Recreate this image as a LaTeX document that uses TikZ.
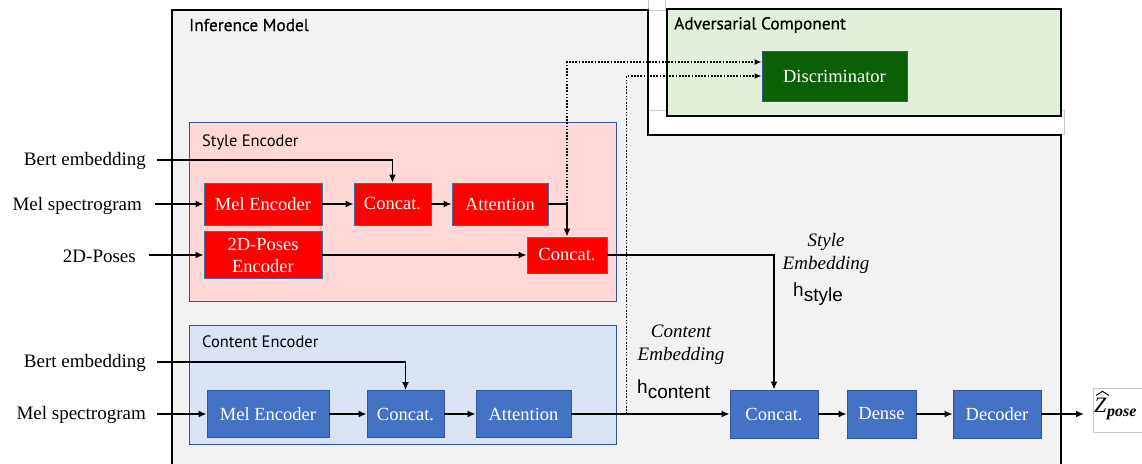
\documentclass[tikz,border=0pt]{standalone}
\usepackage{fontspec}
\setmainfont{Liberation Serif}
\newfontfamily\ttlfont{PT Sans}
\newfontfamily\ttlfontb[FakeBold=0.6]{PT Sans}
\newfontfamily\hfont{Liberation Sans}
\usetikzlibrary{arrows.meta}
\definecolor{infgray}{HTML}{F2F2F2}
\definecolor{advgreen}{HTML}{E2EFDA}
\definecolor{discgreen}{HTML}{0B6005}
\definecolor{stylepink}{HTML}{FFD7D7}
\definecolor{contblue}{HTML}{DAE3F3}
\definecolor{boxblue}{HTML}{4472C4}
\definecolor{edgeblue}{HTML}{2F5597}
\definecolor{rededge}{HTML}{41719C}
\definecolor{artgray}{HTML}{C8C8C8}
\tikzset{
  boxtext/.style={font=\fontsize{18.5}{22}\selectfont, text=white, align=center, inner sep=0pt},
  redbox/.style={boxtext, fill=red, draw=rededge, line width=0.9pt},
  bluebox/.style={boxtext, fill=boxblue, draw=edgeblue, line width=0.9pt},
  intext/.style={font=\fontsize{19}{22}\selectfont, anchor=east, inner sep=0pt},
  ttl/.style={font=\ttlfontb\fontsize{17.3}{20}\selectfont, anchor=west, inner sep=0pt},
  subttl/.style={font=\ttlfont\fontsize{16.5}{20}\selectfont, anchor=west, inner sep=0pt},
  emb/.style={font=\fontsize{19}{23}\selectfont\itshape, align=center, inner sep=0pt},
  hlab/.style={font=\hfont\fontsize{19}{22}\selectfont, anchor=base west, inner sep=0pt},
  arr/.style={line width=1.5pt, -{Latex[length=8pt,width=7pt]}},
  dotarr/.style={line width=1.7pt, dash pattern=on 1.7pt off 1.5pt, -{Latex[length=7pt,width=6pt]}}
}
\begin{document}
\begin{tikzpicture}[x=1pt,y=-1pt]
\useasboundingbox (0,0) rectangle (1142,463);
\fill[white] (0,0) rectangle (1142,463);

% containers
\draw[draw=artgray, fill=white, line width=0.8pt] (648,110) rectangle (1064,134);
\draw[draw=artgray, fill=white, line width=0.8pt] (648,-5) rectangle (665,10);
\draw[fill=infgray, line width=1.5pt] (172,475) -- (172,10) -- (648,10) -- (648,135) -- (1061,135) -- (1061,475) -- cycle;
\draw[fill=advgreen, line width=2pt] (667,9) rectangle (1061,116);
\draw[fill=stylepink, draw=edgeblue, line width=0.9pt] (189,122) rectangle (616,301);
\draw[fill=contblue, draw=edgeblue, line width=0.9pt] (189,325) rectangle (616,444);

% titles
\node[ttl] (tinf) at (189,25) {Inference Model};
\node[ttl] (tadv) at (674,25) {Adversarial Component};
\node[subttl] (tsty) at (202,142) {Style Encoder};
\node[subttl] (tcon) at (202,342) {Content Encoder};

% discriminator
\node[boxtext, fill=discgreen, draw=edgeblue, line width=0.9pt, minimum width=145, minimum height=50] (disc) at (834.5,76) {Discriminator};

% style encoder
\node[redbox, minimum width=118, minimum height=42] (smel) at (263,204) {Mel Encoder};
\node[redbox, minimum width=77, minimum height=42] (scat) at (392.5,204) {Concat.};
\node[redbox, minimum width=96, minimum height=42] (satt) at (500,204) {Attention};
\node[redbox, minimum width=118, minimum height=47] (spose) at (263,255) {2D-Poses\\Encoder};
\node[redbox, minimum width=80, minimum height=36] (scat2) at (567,255) {Concat.};

% content encoder
\node[bluebox, minimum width=122, minimum height=47] (cmel) at (268,414) {Mel Encoder};
\node[bluebox, minimum width=77, minimum height=47] (ccat) at (405.5,414) {Concat.};
\node[bluebox, minimum width=95, minimum height=47] (catt) at (523.5,414) {Attention};

% decoder path
\node[bluebox, minimum width=88, minimum height=48] (ocat) at (774,414) {Concat.};
\node[bluebox, minimum width=69, minimum height=48] (dense) at (881.5,414) {Dense};
\node[bluebox, minimum width=88, minimum height=48] (dec) at (997,414) {Decoder};

% inputs
\node[intext] (sbert) at (146,161) {Bert embedding};
\node[intext] (smelin) at (142,206) {Mel spectrogram};
\node[intext] (sposein) at (136,256) {2D-Poses};
\node[intext] (cbert) at (146,363) {Bert embedding};
\node[intext] (cmelin) at (146,415) {Mel spectrogram};
\coordinate (sbertout) at ([xshift=11pt,yshift=1pt]sbert.east);
\coordinate (smelout) at ([xshift=13pt]smelin.east);
\coordinate (sposeout) at ([xshift=13pt]sposein.east);
\coordinate (cbertout) at ([xshift=11pt,yshift=1pt]cbert.east);
\coordinate (cmelout) at ([xshift=11pt]cmelin.east);

% embedding labels
\node[emb] (semb) at (826,253) {Style\\Embedding};
\node[hlab] (hsty) at (793,296) {h\raisebox{-5pt}{style}};
\node[emb] (cemb) at (681,345) {Content\\Embedding};
\node[hlab] (hcon) at (637,393) {h\raisebox{-5pt}{content}};

% output
\draw[draw=artgray, fill=white, line width=0.8pt] (1093,388) rectangle (1150,432);
\node[anchor=base west, inner sep=0pt, font=\fontsize{22}{22}\selectfont\itshape] (zl) at (1094,412) {Z};
\node[anchor=base west, inner sep=0pt, font=\fontsize{16}{16}\selectfont\bfseries\itshape] (zsub) at (1107,416) {pose};
\draw[line width=0.9pt, line join=miter] ([xshift=2pt,yshift=2pt]zl.north west) -- ([xshift=8.5pt,yshift=6pt]zl.north west) -- ([xshift=15pt,yshift=2pt]zl.north west);
\coordinate (zin) at ([xshift=-10pt]zl.west);

% coordinates for dotted branches
\coordinate (c1) at (scat2.north |- satt.east);
\coordinate (c2) at ([xshift=55pt]catt.east);

% connectors
\draw[arr] (sbertout) -| (scat.north);
\draw[arr] (smelout |- smel.west) -- (smel.west);
\draw[arr] (sposeout |- spose.west) -- (spose.west);
\draw[arr] (smel.east) -- (scat.west);
\draw[arr] (scat.east) -- (satt.west);
\draw[arr] (satt.east) -| (scat2.north);
\draw[arr] (spose.east) -- (scat2.west);
\draw[arr] (scat2.east) -| (ocat.north);

\draw[arr] (cbertout) -| (ccat.north);
\draw[arr] (cmelout |- cmel.west) -- (cmel.west);
\draw[arr] (cmel.east) -- (ccat.west);
\draw[arr] (ccat.east) -- (catt.west);
\draw[arr] (catt.east) -- (ocat.west);
\draw[arr] (ocat.east) -- (dense.west);
\draw[arr] (dense.east) -- (dec.west);
\draw[arr] (dec.east) -- (zin |- dec.east);

\draw[dotarr] (c1) |- ([yshift=14pt]disc.west);
\draw[dotarr] (c2) |- (disc.west);
\end{tikzpicture}
\end{document}
